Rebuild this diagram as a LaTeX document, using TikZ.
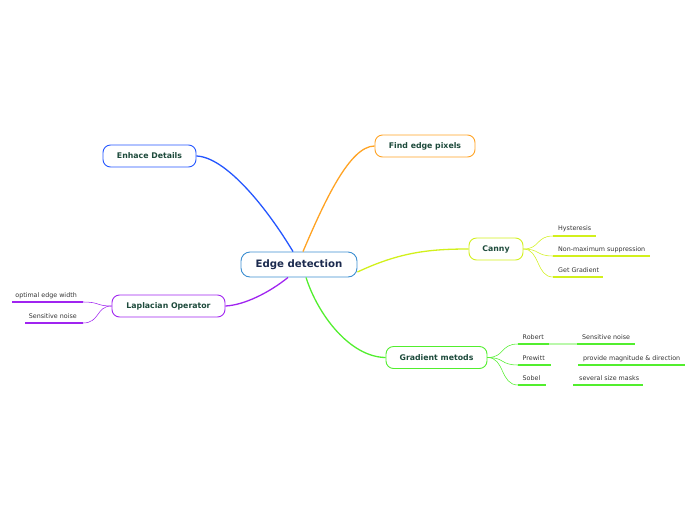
\documentclass[tikz,border=0pt]{standalone}
\usepackage{fontspec}
\setmainfont{DejaVu Sans}
\definecolor{centblue}{HTML}{3D8FD1}
\definecolor{enhblue}{HTML}{2456FF}
\definecolor{findorange}{HTML}{FFA324}
\definecolor{cannyyel}{HTML}{D2F01C}
\definecolor{gradgreen}{HTML}{52EE2E}
\definecolor{lappurple}{HTML}{A024F0}
\definecolor{txtgreen}{HTML}{1E4B3C}
\definecolor{navytxt}{HTML}{1B2A4E}
\definecolor{leafgray}{HTML}{333333}
\begin{document}
\begin{tikzpicture}[x=1pt,y=-1pt,
  rootbox/.style={draw=centblue, line width=0.9pt, rounded corners=9pt, fill=white,
    minimum width=116pt, minimum height=25pt, inner sep=0pt,
    font=\fontsize{10.2}{12}\selectfont\bfseries, text=navytxt},
  branchbox/.style={draw, line width=0.9pt, rounded corners=7.5pt, fill=white,
    minimum height=22pt, inner sep=0pt,
    font=\fontsize{7.8}{9}\selectfont\bfseries, text=txtgreen},
  leaftext/.style={font=\fontsize{6.35}{7.5}\selectfont, text=leafgray, inner sep=0pt},
  mainlink/.style={line width=1.3pt},
  leaflink/.style={line width=0.55pt},
  underline/.style={line width=2pt}
]
\useasboundingbox (0,0) rectangle (696,520);

% nodes
\node[rootbox] (root) at (299,264.5) {Edge detection};
\node[branchbox, draw=enhblue, minimum width=93pt] (enh) at (149.5,156) {Enhace Details};
\node[branchbox, draw=findorange, minimum width=100pt] (find) at (425,146) {Find edge pixels};
\node[branchbox, draw=cannyyel, minimum width=54pt] (canny) at (496,249) {Canny};
\node[branchbox, draw=gradgreen, minimum width=101pt] (grad) at (436.5,357.5) {Gradient metods};
\node[branchbox, draw=lappurple, minimum width=113pt] (lap) at (168.5,306) {Laplacian Operator};

% main connectors
\draw[mainlink, enhblue] ([xshift=-6pt]root.north) .. controls (265,205) and (225,157) .. (enh.east);
\draw[mainlink, findorange] ([xshift=4pt]root.north) .. controls (325,200) and (350,146) .. (find.west);
\draw[mainlink, cannyyel] ([yshift=-7.5pt]root.east) .. controls (400,252) and (430,249) .. (canny.west);
\draw[mainlink, gradgreen] ([xshift=7pt]root.south) .. controls (318,315) and (350,357) .. (grad.west);
\draw[mainlink, lappurple] ([xshift=-11pt]root.south) .. controls (270,292) and (245,305) .. (lap.east);

% Canny leaves
\node[leaftext, anchor=base west] (hyst) at (558,230) {Hysteresis};
\node[leaftext, anchor=base west] (nonmax) at (558,251) {Non-maximum suppression};
\node[leaftext, anchor=base west] (getgrad) at (558,272) {Get Gradient};
\coordinate (hystA) at (553,236); \coordinate (hystB) at (596,236);
\coordinate (nonmaxA) at (553,256); \coordinate (nonmaxB) at (650,256);
\coordinate (getgradA) at (553,277); \coordinate (getgradB) at (603,277);
\draw[underline, cannyyel] (hystA) -- (hystB);
\draw[underline, cannyyel] (nonmaxA) -- (nonmaxB);
\draw[underline, cannyyel] (getgradA) -- (getgradB);
\draw[leaflink, cannyyel] (canny.east) .. controls (540,249) and (536,236) .. (hystA);
\draw[leaflink, cannyyel] (canny.east) .. controls (540,249) and (536,256) .. (nonmaxA);
\draw[leaflink, cannyyel] (canny.east) .. controls (540,249) and (536,277) .. (getgradA);

% Gradient leaves
\node[leaftext, anchor=base west] (robert) at (522.5,339) {Robert};
\node[leaftext, anchor=base west] (prewitt) at (522.5,360) {Prewitt};
\node[leaftext, anchor=base west] (sobel) at (522.5,380.5) {Sobel};
\node[leaftext, anchor=base west] (sensg) at (582,339) {Sensitive noise};
\node[leaftext, anchor=base west] (provide) at (583,360) {provide magnitude \& direction};
\node[leaftext, anchor=base west] (several) at (579,380.5) {several size masks};
\coordinate (robertA) at (518,344); \coordinate (robertB) at (549,344);
\coordinate (prewittA) at (518,365); \coordinate (prewittB) at (551,365);
\coordinate (sobelA) at (518,385); \coordinate (sobelB) at (546,385);
\coordinate (sensgA) at (577,344); \coordinate (sensgB) at (635,344);
\coordinate (provideA) at (578,365); \coordinate (provideB) at (685,365);
\coordinate (severalA) at (573,385); \coordinate (severalB) at (643,385);
\draw[underline, gradgreen] (robertA) -- (robertB);
\draw[underline, gradgreen] (prewittA) -- (prewittB);
\draw[underline, gradgreen] (sobelA) -- (sobelB);
\draw[underline, gradgreen] (sensgA) -- (sensgB);
\draw[underline, gradgreen] (provideA) -- (provideB);
\draw[underline, gradgreen] (severalA) -- (severalB);
\draw[line width=1.5pt, gradgreen!40] (robertB) -- (sensgA);
\draw[leaflink, gradgreen] (grad.east) .. controls (505,357.5) and (500,344) .. (robertA);
\draw[leaflink, gradgreen] (grad.east) .. controls (505,357.5) and (500,365) .. (prewittA);
\draw[leaflink, gradgreen] (grad.east) .. controls (505,357.5) and (500,385) .. (sobelA);

% Laplacian leaves
\node[leaftext, anchor=base east] (optimal) at (77,297) {optimal edge width};
\node[leaftext, anchor=base east] (sensl) at (77,318) {Sensitive noise};
\coordinate (optimalA) at (12,302); \coordinate (optimalB) at (83,302);
\coordinate (senslA) at (25,323); \coordinate (senslB) at (83,323);
\draw[underline, lappurple] (optimalA) -- (optimalB);
\draw[underline, lappurple] (senslA) -- (senslB);
\draw[leaflink, lappurple] (lap.west) .. controls (96,306) and (100,302) .. (optimalB);
\draw[leaflink, lappurple] (lap.west) .. controls (96,306) and (100,323) .. (senslB);
\end{tikzpicture}
\end{document}
